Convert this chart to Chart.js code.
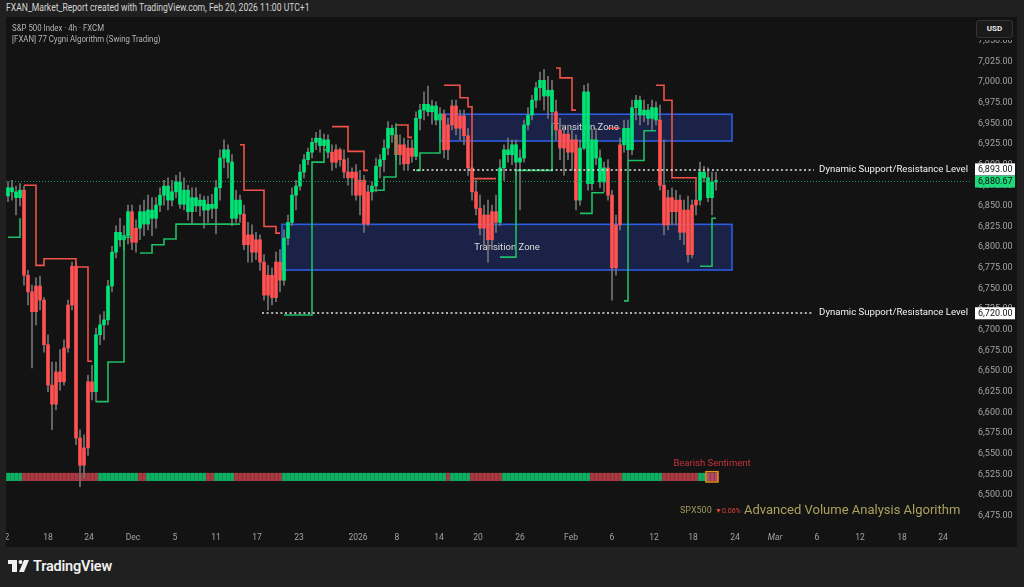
<!DOCTYPE html>
<html>
<head>
<meta charset="utf-8">
<script src="https://cdn.jsdelivr.net/npm/chart.js@4.4.1/dist/chart.umd.min.js"></script>
<style>
html, body { margin: 0; padding: 0; width: 1024px; height: 587px; overflow: hidden; background: #202020; font-family: Roboto, sans-serif; }
#hdr { position: absolute; left: 6px; top: 2px; font-size: 10px; line-height: 12px; color: #d4d4d4; white-space: nowrap; transform: scaleX(0.86); transform-origin: left; }
#panel { position: absolute; left: 6px; top: 17px; width: 1011px; height: 530px; background: #131313; }
#legend { position: absolute; left: 12px; top: 23px; font-size: 8.5px; line-height: 11px; color: #b4b4b4; white-space: nowrap; transform: scaleX(0.92); transform-origin: left; }
#axisTop { position: absolute; left: 972px; top: 17px; width: 45px; height: 23px; background: #131313; }
#usd { position: absolute; left: 976px; top: 20px; width: 37px; height: 18px; box-sizing: border-box; border: 1px solid #343434; border-radius: 3px; background: #1a1a1a; color: #e8e8e8; font-size: 8px; font-weight: bold; line-height: 16px; text-align: center; }
.note { position: absolute; white-space: nowrap; }
#logo { position: absolute; left: 8px; top: 559px; }
#logoTxt { position: absolute; left: 33px; top: 558px; font-size: 14.5px; font-weight: 600; color: #f0f0f0; letter-spacing: -0.2px; }
</style>
</head>
<body>
<div id="hdr">FXAN_Market_Report created with TradingView.com, Feb 20, 2026 11:00 UTC+1</div>
<div id="panel"><canvas id="chart"></canvas></div>
<div id="legend">S&amp;P 500 Index · 4h · FXCM<br>[FXAN] 77 Cygni Algorithm (Swing Trading)</div>
<div id="axisTop"></div>
<div id="usd">USD</div>
<div class="note" style="left:680px;top:505px;font-size:9px;color:#9d9a5c">SPX500</div>
<div class="note" style="left:715px;top:507px;font-size:7px;color:#e0403a">▼0.06%</div>
<div class="note" style="left:744px;top:502px;font-size:13px;color:#aaa25e">Advanced Volume Analysis Algorithm</div>
<svg id="logo" width="22" height="14" viewBox="0 0 22 14">
  <rect x="0" y="1" width="9" height="4" fill="#f0f0f0"/>
  <rect x="4" y="1" width="5" height="12" fill="#f0f0f0"/>
  <circle cx="12.5" cy="3" r="2" fill="#f0f0f0"/>
  <polygon points="16,1 21,1 16,13 11,13" fill="#f0f0f0"/>
</svg>
<div id="logoTxt">TradingView</div>
<script>
// S&P 500 4h candles (index 0 = first bar on the left)
const opens = [6862,6872,6867,6860,6869,6766,6746,6722,6753,6736,6682,6633,6610,6649,6637,6678,6730,6777,6569,6536,
  6557,6637,6625,6694,6706,6712,6753,6794,6818,6809,6814,6843,6806,6823,6843,6828,6845,6835,6851,6863,
  6874,6857,6867,6879,6852,6869,6843,6860,6850,6857,6845,6852,6847,6872,6908,6918,6903,6835,6857,6840,
  6803,6815,6794,6809,6782,6742,6766,6739,6782,6760,6811,6830,6863,6874,6891,6906,6915,6927,6932,6923,
  6930,6915,6903,6918,6906,6891,6884,6891,6863,6881,6828,6867,6874,6898,6906,6920,6944,6936,6912,6924,
  6901,6920,6910,6956,6966,6973,6964,6971,6954,6961,6918,6948,6971,6944,6959,6935,6896,6867,6847,6823,
  6839,6809,6843,6830,6896,6918,6912,6924,6903,6908,6948,6960,6978,6993,7002,6983,6990,6964,6942,6920,
  6937,6915,6930,6857,6920,6988,6877,6930,6908,6879,6896,6863,6775,6827,6924,6944,6918,6969,6978,6960,
  6966,6956,6969,6954,6875,6827,6860,6843,6857,6818,6845,6791,6851,6857,6891,6884,6860,6879];
const highs = [6879,6881,6874,6877,6874,6772,6754,6763,6765,6739,6694,6661,6661,6676,6688,6736,6782,6782,6579,6573,
  6645,6657,6702,6718,6722,6760,6801,6826,6835,6826,6851,6851,6833,6851,6857,6863,6860,6860,6872,6881,
  6884,6881,6887,6891,6884,6875,6872,6872,6864,6862,6862,6864,6881,6918,6930,6924,6912,6869,6863,6851,
  6830,6827,6818,6815,6791,6778,6775,6794,6797,6821,6839,6872,6881,6900,6912,6920,6932,6939,6942,6937,
  6936,6924,6924,6920,6918,6908,6896,6900,6893,6887,6875,6879,6908,6912,6930,6952,6948,6944,6936,6932,
  6930,6930,6964,6973,6988,6995,6978,6976,6969,6966,6956,6978,6978,6966,6966,6944,6906,6881,6863,6851,
  6857,6851,6863,6906,6924,6932,6930,6930,6918,6954,6969,6984,7000,7012,7015,7007,7002,6978,6956,6948,
  6948,6942,6936,6930,6996,6998,6942,6944,6918,6903,6906,6869,6839,6932,6954,6954,6978,6984,6983,6978,
  6973,6978,6976,6972,6930,6869,6872,6869,6863,6857,6862,6857,6869,6903,6898,6896,6891,6891];
const lows = [6855,6857,6839,6850,6754,6730,6654,6706,6724,6673,6625,6579,6603,6627,6633,6673,6724,6561,6510,6521,
  6548,6615,6613,6682,6688,6706,6746,6787,6801,6797,6804,6797,6794,6809,6814,6821,6814,6823,6843,6851,
  6845,6850,6860,6847,6845,6833,6828,6843,6838,6823,6830,6835,6816,6857,6896,6884,6826,6830,6830,6797,
  6782,6782,6785,6772,6736,6724,6730,6734,6746,6754,6803,6826,6845,6869,6884,6900,6908,6918,6915,6918,
  6908,6893,6896,6898,6884,6875,6863,6857,6839,6818,6826,6857,6867,6884,6891,6912,6927,6906,6900,6893,
  6893,6903,6906,6942,6954,6959,6949,6948,6942,6908,6906,6942,6936,6930,6924,6887,6857,6839,6815,6803,
  6782,6797,6818,6826,6881,6903,6900,6887,6845,6903,6942,6954,6969,6978,6966,6956,6936,6930,6906,6887,
  6906,6893,6845,6851,6918,6869,6869,6900,6872,6867,6857,6736,6766,6821,6915,6906,6912,6954,6948,6952,
  6948,6942,6948,6869,6815,6821,6827,6827,6809,6803,6782,6787,6839,6851,6879,6855,6839,6869];
const closes = [6872,6867,6860,6869,6766,6746,6722,6753,6736,6682,6633,6610,6649,6637,6678,6730,6777,6569,6536,6557,
  6637,6625,6694,6706,6712,6753,6794,6818,6809,6814,6843,6806,6823,6843,6828,6845,6835,6851,6863,6874,
  6857,6867,6879,6852,6869,6843,6860,6850,6857,6845,6852,6847,6872,6908,6918,6903,6835,6857,6840,6803,
  6815,6794,6809,6782,6742,6766,6739,6782,6760,6811,6830,6863,6874,6891,6906,6915,6927,6932,6923,6930,
  6915,6903,6918,6906,6891,6884,6891,6863,6881,6828,6867,6874,6898,6906,6920,6944,6936,6912,6924,6901,
  6920,6910,6956,6966,6973,6964,6971,6954,6961,6918,6948,6971,6944,6959,6935,6896,6867,6847,6823,6839,
  6809,6843,6830,6896,6918,6912,6924,6903,6908,6948,6960,6978,6993,7002,6983,6990,6964,6942,6920,6937,
  6915,6930,6857,6920,6988,6877,6930,6908,6879,6896,6863,6775,6827,6924,6944,6918,6969,6978,6960,6966,
  6956,6969,6954,6875,6827,6860,6843,6857,6818,6845,6791,6851,6857,6891,6884,6860,6879,6880.67];

// bar colouring by trend state of the algorithm: [first, last] index of bullish runs
const bullRuns = [[0,3],[22,30],[33,58],[69,80],[91,96],[102,108],[123,136],[143,149],[154,162],[173,177]];

// trailing stop levels: [first, last, price]
const supportRuns = [[0,2,6812],[3,3,6835],[22,24,6613],[25,28,6661],[29,31,6812],[33,35,6793],[36,38,6803],
  [39,41,6810],[42,58,6828],[69,75,6718],[76,78,6903],[79,80,6918],[91,93,6869],[94,96,6885],[97,97,6950],
  [102,102,6893],[103,107,6914],[108,108,6962],[123,126,6788],[127,135,6893],[136,136,6950],[143,145,6841],
  [146,149,6866],[154,154,6735],[155,158,6905],[159,162,6941],[173,175,6777],[176,177,6835]];
const resistRuns = [[4,6,6875],[7,8,6778],[9,16,6786],[17,19,6776],[20,21,6662],[58,58,6924],[59,63,6869],
  [64,66,6825],[67,68,6817],[81,84,6946],[85,88,6916],[89,90,6893],[97,99,6948],[100,101,6933],[109,112,6996],
  [113,114,6981],[115,115,6970],[116,122,6883],[137,137,7017],[138,140,7005],[141,142,6966],[150,153,6944],
  [162,163,6996],[164,165,6978],[166,171,6884],[172,172,6869]];

// volume sentiment strip: bullish runs, last bars highlighted
const sentimentUpRuns = [[0,3],[23,32],[35,49],[52,56],[69,109],[111,115],[124,145],[154,163],[173,174]];
const sentimentLast = [175, 177];
const stripRange = [6517, 6527];

// transition zones
const zoneFrom = [68.5, 108];
const zoneTo = [181, 181];
const zoneLow = [6772.4, 6928.6];
const zoneHigh = [6827.7, 6961];

// dynamic support / resistance levels
const srLevels = [6893, 6720];
const srFrom = [101.25, 63.5];
const srTo = 201.5;
const lastPrice = 6880.67;

// time axis
const timeTickPos = [-0.25,10,20.25,31.25,41.75,52,62.25,72.75,87.5,97.25,107.75,117.5,128,140.75,151,161.5,171.25,181.75,191.75,202.25,213,223.5,233.75];
const timeTickLabels = ['2','18','24','Dec','5','11','17','23','2026','8','14','20','26','Feb','6','12','18','24','Mar','6','12','18','24'];

const GREEN = '#00e676', RED = '#ff5252';
const n = closes.length;
const idx = closes.map((_, i) => i);
const inRuns = (runs, i) => runs.some(r => i >= r[0] && i <= r[1]);

function fromRuns(runs) {
    const out = new Array(n).fill(null);
    runs.forEach(([a, b, v]) => { for (let i = a; i <= b; i++) out[i] = v; });
    return out;
}
const supportLine = fromRuns(supportRuns);
const resistLine = fromRuns(resistRuns);

function fmt(v) {
    return v.toLocaleString('en-US', { minimumFractionDigits: 2, maximumFractionDigits: 2 });
}

// zones, labels, dotted levels and price tags
const overlay = {
    id: 'overlay',
    beforeDatasetsDraw(chart) {
        const { ctx, scales: { x, y } } = chart;
        ctx.save();
        zoneFrom.forEach((from, k) => {
            const x0 = x.getPixelForValue(from), x1 = x.getPixelForValue(zoneTo[k]);
            const y0 = y.getPixelForValue(zoneHigh[k]), y1 = y.getPixelForValue(zoneLow[k]);
            ctx.fillStyle = 'rgba(45,80,210,0.28)';
            ctx.fillRect(x0, y0, x1 - x0, y1 - y0);
            ctx.strokeStyle = '#2c5ce4';
            ctx.lineWidth = 1.6;
            ctx.strokeRect(x0, y0, x1 - x0, y1 - y0);
            ctx.fillStyle = '#dcdcdc';
            ctx.font = '9.5px Roboto';
            ctx.textAlign = 'center';
            ctx.textBaseline = 'middle';
            ctx.fillText('Transition Zone', (x0 + x1) / 2, (y0 + y1) / 2);
        });
        ctx.restore();
    },
    afterDatasetsDraw(chart) {
        const { ctx, chartArea, scales: { x, y } } = chart;
        ctx.save();
        // last price line
        const yl = Math.round(y.getPixelForValue(lastPrice)) + 0.5;
        ctx.strokeStyle = '#1e9e5c';
        ctx.lineWidth = 1;
        ctx.setLineDash([1, 2]);
        ctx.beginPath(); ctx.moveTo(chartArea.left, yl); ctx.lineTo(chartArea.right, yl); ctx.stroke();
        // dynamic S/R
        srLevels.forEach((lv, k) => {
            const yy = Math.round(y.getPixelForValue(lv));
            ctx.strokeStyle = '#e6e6e6';
            ctx.lineWidth = 1.6;
            ctx.setLineDash([2, 2.6]);
            ctx.beginPath();
            ctx.moveTo(x.getPixelForValue(srFrom[k]), yy);
            ctx.lineTo(x.getPixelForValue(srTo), yy);
            ctx.stroke();
            ctx.setLineDash([]);
            ctx.fillStyle = '#f2f2f2';
            ctx.font = '9.6px Roboto';
            ctx.textAlign = 'right';
            ctx.textBaseline = 'middle';
            ctx.fillText('Dynamic Support/Resistance Level', chartArea.right - 4, yy);
        });
        // sentiment highlight
        const bx0 = x.getPixelForValue(sentimentLast[0] - 0.5), bx1 = x.getPixelForValue(sentimentLast[1] + 0.5);
        const by0 = y.getPixelForValue(stripRange[1]) - 1, by1 = y.getPixelForValue(stripRange[0]) + 1;
        ctx.setLineDash([]);
        ctx.strokeStyle = '#e8901c';
        ctx.lineWidth = 1.5;
        ctx.strokeRect(bx0, by0, bx1 - bx0, by1 - by0);
        ctx.fillStyle = '#c8323c';
        ctx.font = '9.5px Roboto';
        ctx.textAlign = 'center';
        ctx.textBaseline = 'middle';
        ctx.fillText('Bearish Sentiment', (bx0 + bx1) / 2, by0 - 8);
        ctx.restore();
    },
    afterDraw(chart) {
        const { ctx, chartArea, scales: { y } } = chart;
        ctx.save();
        ctx.font = '9px Roboto';
        ctx.textBaseline = 'middle';
        ctx.textAlign = 'left';
        const tag = (v, bg, fg, dy) => {
            const yy = y.getPixelForValue(v) + dy;
            ctx.fillStyle = bg;
            ctx.fillRect(chartArea.right + 3, yy - 6, 40, 12);
            ctx.fillStyle = fg;
            ctx.fillText(fmt(v), chartArea.right + 6, yy + 0.5);
        };
        tag(lastPrice, '#1ed97a', '#0b0b0b', 1);
        tag(srLevels[0], '#ffffff', '#131313', -1);
        tag(srLevels[1], '#ffffff', '#131313', 0);
        ctx.restore();
    }
};

new Chart(document.getElementById('chart'), {
    type: 'bar',
    data: {
        datasets: [
            {
                type: 'line',
                data: idx.map(i => ({ x: i, y: supportLine[i] })),
                borderColor: '#1fbf66',
                borderWidth: 1.6,
                stepped: true,
                pointRadius: 0,
                order: 1
            },
            {
                type: 'line',
                data: idx.map(i => ({ x: i, y: resistLine[i] })),
                borderColor: '#f0524a',
                borderWidth: 1.6,
                stepped: true,
                pointRadius: 0,
                order: 2
            },
            {
                data: idx.map(i => ({ x: i, y: [opens[i], closes[i]] })),
                backgroundColor: idx.map(i => inRuns(bullRuns, i) ? GREEN : RED),
                barThickness: 3,
                grouped: false,
                order: 4
            },
            {
                data: idx.map(i => ({ x: i, y: [lows[i], highs[i]] })),
                backgroundColor: '#747474',
                barThickness: 1,
                grouped: false,
                order: 5
            },
            {
                data: idx.map(i => ({ x: i, y: stripRange })),
                backgroundColor: idx.map(i => i >= sentimentLast[0] ? '#b04c68' : (inRuns(sentimentUpRuns, i) ? '#0fb063' : '#a83a42')),
                borderColor: idx.map(i => inRuns(sentimentUpRuns, i) ? '#0a8a4c' : '#8a2c34'),
                borderWidth: { left: 1, right: 0, top: 0, bottom: 0 },
                borderSkipped: false,
                barThickness: 4,
                grouped: false,
                order: 6
            }
        ]
    },
    options: {
        responsive: true,
        maintainAspectRatio: false,
        devicePixelRatio: 1,
        animation: false,
        events: [],
        layout: { padding: 0 },
        plugins: { legend: { display: false }, tooltip: { enabled: false } },
        scales: {
            x: {
                type: 'linear',
                min: -0.5,
                max: 241,
                offset: false,
                grid: { display: false, drawTicks: false },
                border: { display: false },
                afterBuildTicks: scale => { scale.ticks = timeTickPos.map(v => ({ value: v })); },
                afterFit: scale => { scale.height = 23; scale.paddingLeft = 0; scale.paddingRight = 0; },
                ticks: {
                    autoSkip: false,
                    maxRotation: 0,
                    padding: 9,
                    color: '#a3a3a3',
                    font: c => ({ family: 'Roboto', size: 8.5, style: c.tick && c.tick.label === 'Mar' ? 'italic' : 'normal' }),
                    callback: (v, i) => timeTickLabels[i]
                }
            },
            y: {
                type: 'linear',
                position: 'right',
                min: 6464.9,
                max: 7078.7,
                grid: { display: false, drawTicks: false },
                border: { display: false },
                afterFit: scale => { scale.width = 45; scale.paddingTop = 0; scale.paddingBottom = 0; },
                ticks: {
                    stepSize: 25,
                    includeBounds: false,
                    padding: 6,
                    color: '#a3a3a3',
                    font: { family: 'Roboto', size: 9 },
                    callback: v => fmt(v)
                }
            }
        }
    },
    plugins: [overlay]
});
</script>
</body>
</html>
